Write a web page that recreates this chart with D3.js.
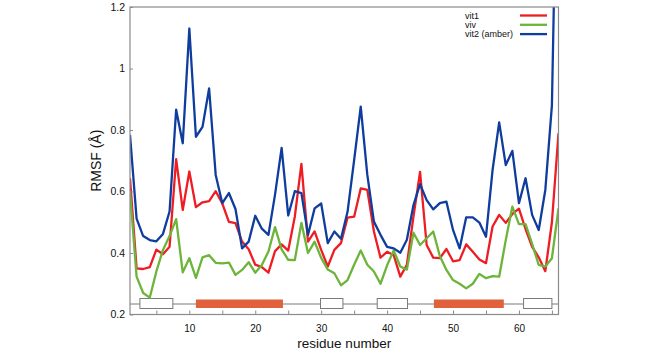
<!DOCTYPE html>
<html>
<head>
<meta charset="utf-8">
<script src="https://cdn.jsdelivr.net/npm/d3@7"></script>
<style>
  body { margin: 0; background: #fff; }
  text { font-family: "Liberation Sans", Arial, sans-serif; }
</style>
</head>
<body>
<div class="graph"></div>
<script>
//residue numbers 1..66
const residues = d3.range(1, 67)

//RMSF values, one per residue
const vit1 = [0.643, 0.350, 0.348, 0.354, 0.411, 0.396, 0.420, 0.705, 0.540, 0.665,
  0.549, 0.565, 0.569, 0.601, 0.561, 0.501, 0.497, 0.437, 0.412, 0.362,
  0.354, 0.336, 0.406, 0.428, 0.408, 0.518, 0.690, 0.437, 0.470, 0.410,
  0.356, 0.410, 0.432, 0.515, 0.518, 0.610, 0.605, 0.470, 0.385, 0.404,
  0.393, 0.323, 0.362, 0.518, 0.664, 0.426, 0.385, 0.383, 0.413, 0.373,
  0.377, 0.428, 0.404, 0.379, 0.367, 0.486, 0.524, 0.498, 0.527, 0.544,
  0.478, 0.420, 0.386, 0.341, 0.500, 0.789]

const viv = [0.600, 0.323, 0.270, 0.255, 0.340, 0.410, 0.455, 0.510, 0.337, 0.383,
  0.319, 0.386, 0.393, 0.368, 0.366, 0.369, 0.329, 0.345, 0.370, 0.336,
  0.361, 0.405, 0.484, 0.412, 0.378, 0.377, 0.498, 0.400, 0.437, 0.384,
  0.346, 0.334, 0.295, 0.312, 0.362, 0.408, 0.362, 0.340, 0.300, 0.360,
  0.408, 0.356, 0.346, 0.466, 0.426, 0.448, 0.470, 0.390, 0.345, 0.312,
  0.300, 0.285, 0.300, 0.332, 0.318, 0.325, 0.323, 0.442, 0.551, 0.494,
  0.494, 0.430, 0.361, 0.356, 0.383, 0.545]

const vit2 = [0.784, 0.512, 0.455, 0.442, 0.438, 0.462, 0.535, 0.866, 0.757, 1.130,
  0.778, 0.810, 0.935, 0.654, 0.562, 0.595, 0.543, 0.415, 0.437, 0.521,
  0.479, 0.459, 0.590, 0.742, 0.522, 0.601, 0.595, 0.459, 0.545, 0.561,
  0.432, 0.470, 0.446, 0.534, 0.702, 0.876, 0.654, 0.502, 0.459, 0.420,
  0.415, 0.401, 0.443, 0.556, 0.624, 0.572, 0.542, 0.562, 0.567, 0.475,
  0.415, 0.516, 0.516, 0.499, 0.453, 0.670, 0.825, 0.686, 0.732, 0.562,
  0.643, 0.524, 0.475, 0.605, 0.880, 2.000]

const seriesNames = ["vit1", "viv", "vit2 (amber)"]
const seriesColors = ["#ee1d23", "#6cb43a", "#0f3d9e"]

//tick labels
const xTicks = [10, 20, 30, 40, 50, 60]
const xMinorTicks = [5, 10, 15, 20, 25, 30, 35, 40, 45, 50, 55, 60, 65]
const yTicks = [0.2, 0.4, 0.6, 0.8, 1, 1.2]

//secondary structure track: [start, end] in residues
const strands = [[2.5, 7.5], [29.9, 33.3], [38.5, 43.1], [60.7, 65]]
const helices = [[11, 24.2], [47.1, 57.7]]

const width = 670
const height = 353
const plot = { left: 130, right: 558.5, top: 7, bottom: 314.5 }

const svg = d3.select(".graph")
  .append("svg")
  .attr("width", width)
  .attr("height", height)

const x = d3.scaleLinear()
  .domain([1, 66])
  .range([plot.left, plot.right])

const y = d3.scaleLinear()
  .domain([0.2, 1.2])
  .range([plot.bottom, plot.top])

svg.append("clipPath")
  .attr("id", "clip")
  .append("rect")
  .attr("x", plot.left)
  .attr("y", plot.top)
  .attr("width", plot.right - plot.left)
  .attr("height", plot.bottom - plot.top)

// secondary structure line + boxes
const ssY = 304
svg.append("line")
  .attr("x1", plot.left).attr("x2", plot.right)
  .attr("y1", ssY).attr("y2", ssY)
  .attr("stroke", "#7a7a7a")
  .attr("stroke-width", 1)

svg.selectAll(".strand")
  .data(strands)
  .join("rect")
  .attr("class", "strand")
  .attr("x", d => x(d[0]))
  .attr("width", d => x(d[1]) - x(d[0]))
  .attr("y", ssY - 5.5)
  .attr("height", 10)
  .attr("fill", "#fff")
  .attr("stroke", "#7a7a7a")
  .attr("stroke-width", 1)

svg.selectAll(".helix")
  .data(helices)
  .join("rect")
  .attr("class", "helix")
  .attr("x", d => x(d[0]))
  .attr("width", d => x(d[1]) - x(d[0]))
  .attr("y", ssY - 4.5)
  .attr("height", 8.5)
  .attr("fill", "#e0613b")

// lines
const line = d3.line()
  .x((d, i) => x(residues[i]))
  .y(d => y(d))

const allSeries = [vit1, viv, vit2]
allSeries.forEach((s, i) => {
  svg.append("path")
    .datum(s)
    .attr("clip-path", "url(#clip)")
    .attr("fill", "none")
    .attr("stroke", seriesColors[i])
    .attr("stroke-width", 2.3)
    .attr("stroke-linejoin", "round")
    .attr("d", line)
})

// frame
svg.append("rect")
  .attr("x", plot.left)
  .attr("y", plot.top)
  .attr("width", plot.right - plot.left)
  .attr("height", plot.bottom - plot.top)
  .attr("fill", "none")
  .attr("stroke", "#8a8a8a")
  .attr("stroke-width", 1.2)

// x axis: ticks point inward, labels every 10
const xAxis = svg.append("g")
  .attr("transform", `translate(0,${plot.bottom})`)
  .call(d3.axisBottom(x).tickValues(xMinorTicks).tickSize(-4).tickFormat(""))
xAxis.select(".domain").remove()
xAxis.selectAll("line").attr("stroke", "#8a8a8a")

svg.append("g")
  .attr("transform", `translate(0,${plot.bottom})`)
  .call(d3.axisBottom(x).tickValues(xTicks).tickSize(0).tickPadding(10))
  .call(g => g.select(".domain").remove())
  .selectAll("text")
  .attr("font-size", 10)
  .attr("fill", "#111")

// y axis
const yAxis = svg.append("g")
  .attr("transform", `translate(${plot.left},0)`)
  .call(d3.axisLeft(y).tickValues(yTicks).tickSize(-3).tickPadding(5).tickFormat(d3.format("~g")))
yAxis.select(".domain").remove()
yAxis.selectAll("line").attr("stroke", "#8a8a8a")
yAxis.selectAll("text")
  .attr("font-size", 10.5)
  .attr("fill", "#111")

// axis titles
svg.append("text")
  .attr("x", (plot.left + plot.right) / 2)
  .attr("y", 348)
  .attr("text-anchor", "middle")
  .attr("font-size", 13.5)
  .attr("fill", "#111")
  .text("residue number")

svg.append("text")
  .attr("transform", `translate(101,${(plot.top + plot.bottom) / 2}) rotate(-90)`)
  .attr("text-anchor", "middle")
  .attr("font-size", 14)
  .attr("fill", "#111")
  .text("RMSF (Å)")

// legend
const legend = svg.append("g")
seriesNames.forEach((name, i) => {
  const ly = 15.5 + i * 9.3
  legend.append("text")
    .attr("x", 465)
    .attr("y", ly + 3.2)
    .attr("font-size", 9)
    .attr("fill", "#111")
    .text(name)
  legend.append("line")
    .attr("x1", 520).attr("x2", 547)
    .attr("y1", ly).attr("y2", ly)
    .attr("stroke", seriesColors[i])
    .attr("stroke-width", 2.3)
})
</script>
</body>
</html>
